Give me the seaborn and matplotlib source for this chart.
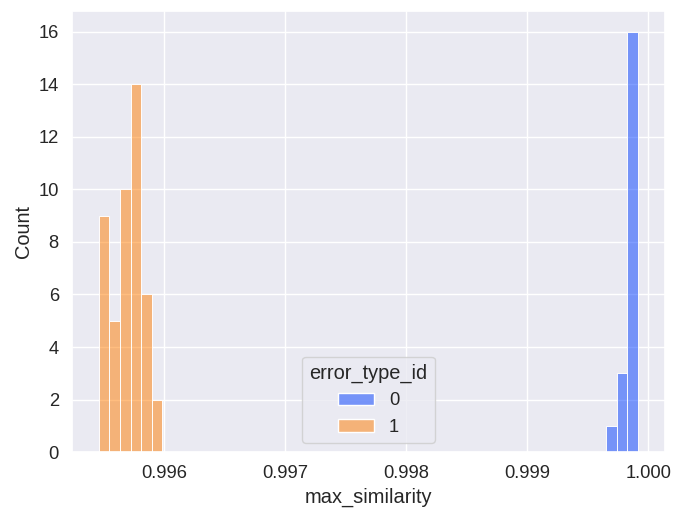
import matplotlib
matplotlib.use("Agg")
import matplotlib.pyplot as plt
import seaborn as sns
import pandas as pd

sns.set_theme(style="darkgrid", font_scale=1.2)
plt.rcParams['font.family'] = ['Liberation Sans', 'DejaVu Sans']

# bin centres, with the bar heights
type0_similarity = [0.999697, 0.999784, 0.999871]
type0_counts = [1, 3, 16]
type1_similarity = [0.995508, 0.995595, 0.995682, 0.995770, 0.995857, 0.995944]
type1_counts = [9, 5, 10, 14, 6, 2]

df = pd.DataFrame({
    "max_similarity": type0_similarity + type1_similarity,
    "count": type0_counts + type1_counts,
    "error_type_id": [0] * len(type0_counts) + [1] * len(type1_counts),
})

fig, ax = plt.subplots(figsize=(6.79, 5.19), dpi=100)
sns.histplot(data=df, x="max_similarity", weights="count", hue="error_type_id",
             palette="bright", alpha=0.5, bins=51,
             binrange=(0.995464, 0.999915), ax=ax)
sns.move_legend(ax, "lower center")
plt.subplots_adjust(left=0.106, right=0.979, top=0.979, bottom=0.129)

plt.savefig("out.png", dpi=100)
